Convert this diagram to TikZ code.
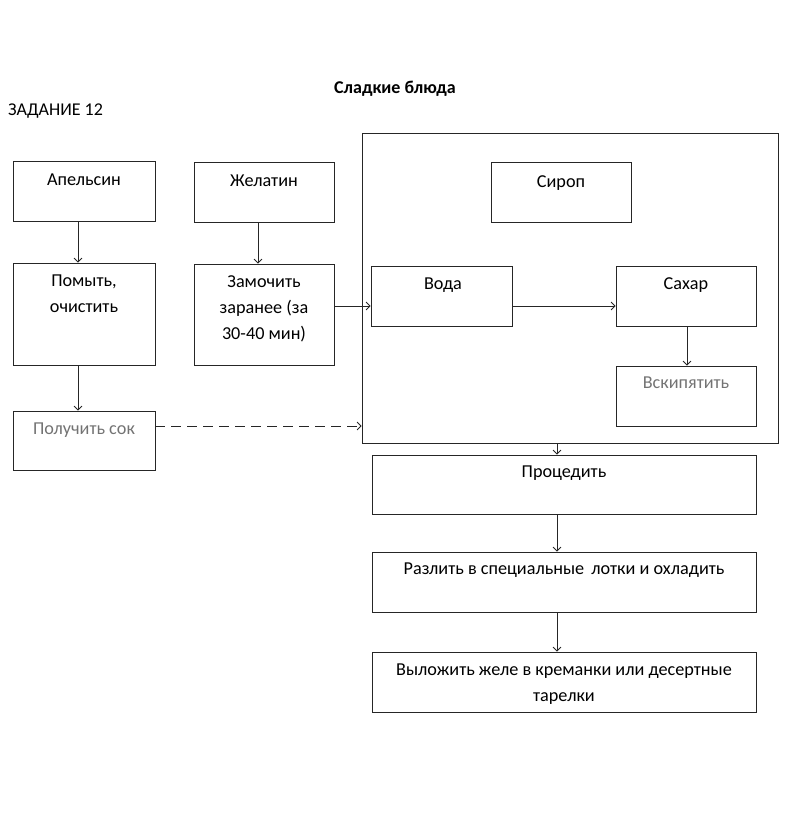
\documentclass[tikz,border=0pt]{standalone}
\usepackage{fontspec}
\setmainfont{Carlito}
\usetikzlibrary{arrows.meta,calc}
\tikzset{
  box/.style={draw=black!85, line width=0.8pt, rectangle, inner sep=0pt},
  txt/.style={inner sep=0pt, anchor=north, align=center, text=black, font=\fontsize{18.2}{26}\selectfont},
  faded/.style={text=black!55},
  arr/.style={draw=black!85, line width=0.8pt, -{Straight Barb[length=4pt,width=8pt]}},
}
\begin{document}
\begin{tikzpicture}[x=1pt,y=-1pt]
\useasboundingbox (0,0) rectangle (804,822);
% title
\node[inner sep=0pt, font=\fontsize{18}{20}\selectfont\bfseries, text=black] (title) at (395,89) {Сладкие блюда};
\node[inner sep=0pt, anchor=west, font=\fontsize{18}{20}\selectfont, text=black] (task) at (8,111) {ЗАДАНИЕ 12};
% boxes
\node[box, minimum width=142pt, minimum height=60pt] (apel) at (84,191) {};
\node[box, minimum width=140pt, minimum height=60pt] (zhel) at (264,192) {};
\node[box, minimum width=142pt, minimum height=102pt] (pomyt) at (84,314) {};
\node[box, minimum width=140pt, minimum height=101pt] (zamoch) at (264,314.5) {};
\node[box, minimum width=416pt, minimum height=310pt] (big) at (570,288) {};
\node[box, minimum width=140pt, minimum height=60pt] (sirop) at (561,192) {};
\node[box, minimum width=141pt, minimum height=60pt] (voda) at (441.5,296) {};
\node[box, minimum width=140pt, minimum height=60pt] (sahar) at (686,296) {};
\node[box, minimum width=140pt, minimum height=60pt] (vskip) at (686,396) {};
\node[box, minimum width=142pt, minimum height=59pt] (sok) at (84,440.5) {};
\node[box, minimum width=384pt, minimum height=59pt] (proc) at (564,484.5) {};
\node[box, minimum width=384pt, minimum height=60pt] (razl) at (564,582) {};
\node[box, minimum width=384pt, minimum height=60pt] (vylozh) at (564,682) {};
% texts
\node[txt] (t-apel) at ([yshift=-6pt]apel.north) {\strut Апельсин};
\node[txt] (t-zhel) at ([yshift=-6pt]zhel.north) {\strut Желатин};
\node[txt] (t-pomyt) at ([yshift=-5pt]pomyt.north) {\strut Помыть,\\очистить};
\node[txt] (t-zamoch) at ([yshift=-5pt]zamoch.north) {\strut Замочить\\заранее (за\\30-40 мин)};
\node[txt] (t-sirop) at ([yshift=-7pt]sirop.north) {\strut Сироп};
\node[txt] (t-voda) at ([xshift=1.5pt,yshift=-5pt]voda.north) {\strut Вода};
\node[txt] (t-sahar) at ([yshift=-5pt]sahar.north) {\strut Сахар};
\node[txt, faded] (t-vskip) at ([yshift=-4pt]vskip.north) {\strut Вскипятить};
\node[txt, faded] (t-sok) at ([yshift=-5pt]sok.north) {\strut Получить сок};
\node[txt] (t-proc) at ([yshift=-4pt]proc.north) {\strut Процедить};
\node[txt] (t-razl) at ([yshift=-4pt]razl.north) {\strut Разлить в специальные\, лотки и охладить};
\node[txt] (t-vylozh) at ([yshift=-5pt]vylozh.north) {\strut Выложить желе в креманки или десертные\\тарелки};
% connectors
\draw[arr] ([xshift=-6pt]apel.south) -- ([xshift=-6pt]pomyt.north);
\draw[arr] ([xshift=-6pt]zhel.south) -- ([xshift=-6pt]zamoch.north);
\draw[arr] ([yshift=8.5pt]zamoch.east) -- ([yshift=8.5pt]zamoch.east -| voda.west);
\draw[arr] ([yshift=-10pt]voda.east) -- ([yshift=-10pt]sahar.west);
\draw[arr] ([xshift=1pt]sahar.south) -- ([xshift=1pt]vskip.north);
\draw[arr] ([xshift=-6pt]pomyt.south) -- ([xshift=-6pt]sok.north);
\draw[arr, dashed, dash pattern=on 10pt off 6pt] ([yshift=14.5pt]sok.east) -- ([yshift=14.5pt]sok.east -| big.west);
\draw[arr] ([xshift=-13pt]big.south) -- ([xshift=-13pt]big.south |- proc.north);
\draw[arr] ([xshift=-7pt]proc.south) -- ([xshift=-7pt]razl.north);
\draw[arr] ([xshift=-7pt]razl.south) -- ([xshift=-7pt]vylozh.north);
\end{tikzpicture}
\end{document}
